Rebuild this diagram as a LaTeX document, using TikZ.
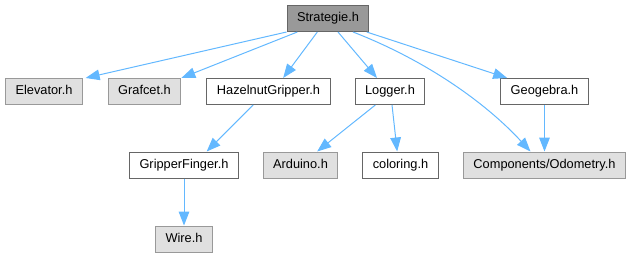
\documentclass[tikz,border=0pt]{standalone}
\usepackage{fontspec}
\setmainfont{Liberation Sans}
\usepackage{xcolor}
\usepackage{tikz}
\usetikzlibrary{arrows.meta,positioning}
\definecolor{xedge}{HTML}{63B8FF}
\definecolor{xdark}{HTML}{999999}
\definecolor{xlight}{HTML}{E0E0E0}
\definecolor{xline}{HTML}{666666}
\definecolor{xgray}{HTML}{999999}

\begin{document}
\begin{tikzpicture}[
    x=0.75pt, y=-0.75pt,
    >={Triangle[length=10.5pt,width=8pt]},
    file/.style={rectangle, draw=xline, fill=white, line width=0.75pt, font=\fontsize{9.6}{11}\selectfont, inner xsep=7.5pt, inner ysep=0pt, minimum height=19.5pt, text height=7pt, text depth=2pt},
    mainfile/.style={file, fill=xdark},
    sysfile/.style={file, draw=xgray, fill=xlight},
    dep/.style={->, color=xedge, line width=0.75pt},
]
\useasboundingbox (0,0) rectangle (632,257);

% --- Main header ---
\node[mainfile] (strategie) at (328,18.5) {Strategie.h};

% --- First level ---
\node[sysfile] (elevator) at (44,91.5) {Elevator.h};
\node[sysfile] (grafcet) at (144.5,91.5) {Grafcet.h};
\node[file] (hazelnut) at (268.5,91.5) {HazelnutGripper.h};
\node[file] (logger) at (390,91.5) {Logger.h};
\node[file] (geogebra) at (544.5,91.5) {Geogebra.h};

% --- Second level ---
\node[file] (gripperfinger) at (184,165) {GripperFinger.h};
\node[sysfile] (arduino) at (300.5,165) {Arduino.h};
\node[file] (coloring) at (400.5,165) {coloring.h};
\node[sysfile] (odometry) at (544.5,165) {Components/Odometry.h};

% --- Third level ---
\node[sysfile] (wire) at (184,239) {Wire.h};

% --- Arrows: Strategie.h ---
\draw[dep] (strategie.south west) -- ([xshift=2pt]elevator.north east);
\draw[dep] ([xshift=-23pt]strategie.south) -- (grafcet.north east);
\draw[dep] ([xshift=-8pt]strategie.south) -- ([xshift=11pt]hazelnut.north);
\draw[dep] ([xshift=7.5pt]strategie.south) -- ([xshift=-9.75pt]logger.north);
\draw[dep] ([xshift=18.75pt]strategie.south) .. controls (425,60) and (485,102) .. ([xshift=-10.5pt]odometry.north);
\draw[dep] ([xshift=29pt]strategie.south) -- ([xshift=-28pt]geogebra.north);

% --- Arrows: second level ---
\draw[dep] ([xshift=-11.5pt]hazelnut.south) -- ([xshift=17pt]gripperfinger.north);
\draw[dep] ([xshift=-11pt]logger.south) -- ([xshift=12.5pt]arduino.north);
\draw[dep] ([xshift=1.5pt]logger.south) -- ([xshift=-2.5pt]coloring.north);
\draw[dep] (geogebra.south) -- (odometry.north);
\draw[dep] (gripperfinger.south) -- (wire.north);

\end{tikzpicture}
\end{document}
